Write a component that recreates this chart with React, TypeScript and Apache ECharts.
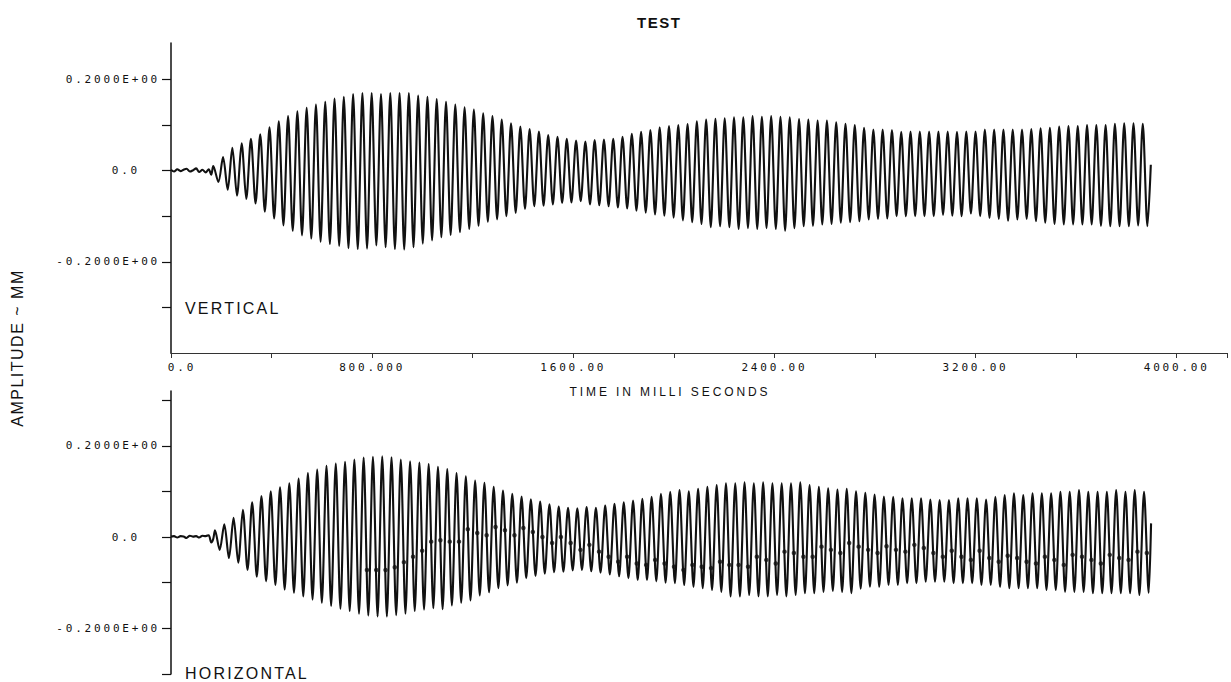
import React, { useEffect, useRef } from 'react';
import * as echarts from 'echarts';

// ---- time base ----
const X_MIN_MS = 0;
const X_MAX_MS = 4200;
const PERIOD_MS = 36.95;
const TOP_FIRST_PEAK_MS = 207;
const BOTTOM_FIRST_PEAK_MS = 175;

// ---- tick / label values ----
const xTickValues = [0, 400, 800, 1200, 1600, 2000, 2400, 2800, 3200, 3600, 4000, 4200];
const xLabelValues = [0, 800, 1600, 2400, 3200, 4000];
const xLabelTexts = ['0.0', '800.000', '1600.00', '2400.00', '3200.00', '4000.00'];
const topYTickValues = [-0.3, -0.2, -0.1, 0, 0.1, 0.2];
const bottomYTickValues = [-0.3, -0.2, -0.1, 0, 0.1, 0.2, 0.3];
const yLabelValues = [-0.2, 0, 0.2];
const yLabelTexts = ['-0.2000E+00', '0.0', '0.2000E+00'];

// ---- quiet lead-in before the oscillation ----
const preTimesMs = [0, 12, 25, 38, 50, 62, 75, 88, 100, 112, 125, 138, 150, 160, 168];
const topPre = [0.002, -0.002, 0.003, -0.001, 0.002, 0.004, -0.002, 0.001, 0.005, -0.003, 0.002, -0.004, 0.003, -0.009, 0.01];
const bottomPre = [0.001, 0.002, -0.001, 0.002, 0.001, -0.002, 0.003, 0.001, 0.002, -0.001, 0.003, 0.002, 0.004, -0.012, -0.004];

// ---- VERTICAL: peak and trough of each cycle ----
const topPeaks = [
  0.03, 0.05, 0.06, 0.07, 0.08, 0.095, 0.108, 0.12, 0.13, 0.138,
  0.145, 0.151, 0.158, 0.162, 0.168, 0.17, 0.17, 0.168, 0.17, 0.17,
  0.17, 0.165, 0.162, 0.157, 0.151, 0.145, 0.139, 0.134, 0.126, 0.12,
  0.112, 0.104, 0.097, 0.091, 0.086, 0.078, 0.074, 0.07, 0.066, 0.064,
  0.067, 0.068, 0.07, 0.074, 0.081, 0.085, 0.089, 0.095, 0.098, 0.1,
  0.102, 0.108, 0.112, 0.114, 0.115, 0.117, 0.117, 0.12, 0.118, 0.12,
  0.118, 0.117, 0.113, 0.112, 0.11, 0.11, 0.106, 0.103, 0.1, 0.094,
  0.09, 0.09, 0.089, 0.085, 0.086, 0.086, 0.086, 0.086, 0.086, 0.085,
  0.086, 0.086, 0.09, 0.09, 0.09, 0.09, 0.09, 0.091, 0.093, 0.094,
  0.097, 0.098, 0.098, 0.1, 0.1, 0.1, 0.103, 0.104, 0.104, 0.103,
];
const topTroughs = [
  -0.025, -0.042, -0.055, -0.062, -0.072, -0.09, -0.105, -0.12, -0.132, -0.142,
  -0.149, -0.156, -0.161, -0.165, -0.17, -0.172, -0.171, -0.164, -0.168, -0.172,
  -0.173, -0.168, -0.16, -0.153, -0.146, -0.141, -0.135, -0.128, -0.121, -0.112,
  -0.107, -0.1, -0.093, -0.084, -0.078, -0.077, -0.074, -0.071, -0.07, -0.067,
  -0.074, -0.076, -0.078, -0.081, -0.083, -0.088, -0.092, -0.096, -0.099, -0.103,
  -0.109, -0.113, -0.117, -0.124, -0.122, -0.124, -0.128, -0.126, -0.128, -0.126,
  -0.128, -0.132, -0.126, -0.122, -0.121, -0.118, -0.117, -0.114, -0.113, -0.111,
  -0.107, -0.106, -0.105, -0.1, -0.1, -0.1, -0.1, -0.1, -0.097, -0.099,
  -0.1, -0.094, -0.1, -0.104, -0.106, -0.11, -0.107, -0.106, -0.111, -0.114,
  -0.117, -0.118, -0.118, -0.118, -0.118, -0.121, -0.122, -0.122, -0.122, -0.12,
  -0.122,
];
const topEndMs = 3897;
const topEndValue = 0.013;

// ---- HORIZONTAL: peak and trough of each cycle ----
const bottomPeaks = [
  0.015, 0.028, 0.042, 0.06, 0.076, 0.09, 0.1, 0.109, 0.118, 0.128,
  0.14, 0.148, 0.156, 0.161, 0.165, 0.17, 0.174, 0.176, 0.177, 0.175,
  0.17, 0.166, 0.163, 0.16, 0.154, 0.149, 0.14, 0.133, 0.124, 0.119,
  0.11, 0.102, 0.095, 0.089, 0.083, 0.078, 0.072, 0.067, 0.064, 0.063,
  0.066, 0.064, 0.069, 0.073, 0.076, 0.08, 0.084, 0.088, 0.095, 0.099,
  0.103, 0.1, 0.106, 0.11, 0.114, 0.118, 0.118, 0.12, 0.118, 0.12,
  0.118, 0.118, 0.118, 0.12, 0.114, 0.11, 0.107, 0.104, 0.106, 0.1,
  0.097, 0.093, 0.089, 0.088, 0.085, 0.085, 0.085, 0.082, 0.081, 0.081,
  0.085, 0.085, 0.085, 0.082, 0.088, 0.092, 0.096, 0.092, 0.096, 0.096,
  0.096, 0.099, 0.099, 0.103, 0.099, 0.099, 0.099, 0.103, 0.099, 0.103,
  0.099,
];
const bottomTroughs = [
  -0.028, -0.046, -0.056, -0.072, -0.087, -0.097, -0.105, -0.115, -0.122, -0.13,
  -0.137, -0.144, -0.151, -0.157, -0.162, -0.168, -0.172, -0.174, -0.174, -0.171,
  -0.168, -0.162, -0.159, -0.156, -0.158, -0.15, -0.144, -0.139, -0.128, -0.121,
  -0.112, -0.106, -0.1, -0.09, -0.085, -0.08, -0.077, -0.076, -0.073, -0.072,
  -0.075, -0.078, -0.082, -0.086, -0.09, -0.094, -0.094, -0.097, -0.1, -0.101,
  -0.105, -0.109, -0.112, -0.116, -0.12, -0.13, -0.13, -0.127, -0.13, -0.13,
  -0.127, -0.13, -0.127, -0.123, -0.123, -0.12, -0.118, -0.12, -0.123, -0.113,
  -0.109, -0.109, -0.105, -0.105, -0.101, -0.101, -0.098, -0.098, -0.098, -0.101,
  -0.101, -0.101, -0.105, -0.105, -0.109, -0.112, -0.112, -0.112, -0.112, -0.116,
  -0.116, -0.12, -0.12, -0.12, -0.123, -0.123, -0.123, -0.123, -0.123, -0.127,
  -0.122,
];
const bottomEndMs = 3898;
const bottomEndValue = 0.03;

// pen dots on the falling strokes of the HORIZONTAL trace (from cycle 16 on)
const DOTS_FIRST_CYCLE = 16;
const bottomDots = [
  -0.072, -0.072, -0.072, -0.066, -0.055, -0.043, -0.03, -0.01, -0.007, -0.01,
  -0.01, 0.017, 0.009, 0.004, 0.022, 0.015, 0.004, 0.02, 0.011, 0,
  -0.013, 0, -0.013, -0.028, -0.017, -0.032, -0.043, -0.054, -0.043, -0.058,
  -0.061, -0.05, -0.058, -0.065, -0.072, -0.061, -0.065, -0.068, -0.054, -0.061,
  -0.061, -0.065, -0.043, -0.05, -0.058, -0.032, -0.035, -0.043, -0.043, -0.021,
  -0.028, -0.035, -0.013, -0.021, -0.028, -0.035, -0.02, -0.028, -0.032, -0.017,
  -0.024, -0.035, -0.043, -0.03, -0.043, -0.05, -0.03, -0.046, -0.054, -0.041,
  -0.046, -0.054, -0.058, -0.043, -0.05, -0.061, -0.039, -0.043, -0.05, -0.058,
  -0.039, -0.046, -0.05, -0.032, -0.035,
];

// ---- build series data from the arrays ----
function buildTop(): number[][] {
  const d: number[][] = preTimesMs.map((t, i) => [t, topPre[i]]);
  for (let k = 0; k < topPeaks.length; k++) {
    d.push([TOP_FIRST_PEAK_MS + (k - 0.5) * PERIOD_MS, topTroughs[k]]);
    d.push([TOP_FIRST_PEAK_MS + k * PERIOD_MS, topPeaks[k]]);
  }
  d.push([TOP_FIRST_PEAK_MS + (topPeaks.length - 0.5) * PERIOD_MS, topTroughs[topPeaks.length]]);
  d.push([topEndMs, topEndValue]);
  return d;
}
function buildBottom(): number[][] {
  const d: number[][] = preTimesMs.map((t, i) => [t, bottomPre[i]]);
  for (let k = 0; k < bottomPeaks.length; k++) {
    d.push([BOTTOM_FIRST_PEAK_MS + k * PERIOD_MS, bottomPeaks[k]]);
    d.push([BOTTOM_FIRST_PEAK_MS + (k + 0.5) * PERIOD_MS, bottomTroughs[k]]);
  }
  d.push([bottomEndMs, bottomEndValue]);
  return d;
}
function buildDots(): number[][] {
  return bottomDots.map((v, i) => {
    const k = DOTS_FIRST_CYCLE + i;
    const p = bottomPeaks[k];
    const tr = bottomTroughs[k];
    const f = (p - v) / (p - tr);
    return [BOTTOM_FIRST_PEAK_MS + (k + f * 0.5) * PERIOD_MS, v];
  });
}

const MONO = "'DejaVu Sans Mono', plotM";
const SANS_X = "'Liberation Sans', plotX";
const SANS_L = "'Liberation Sans', plotL";
const SANS_A = "'Liberation Sans', plotA";
const SANS_T = "'Liberation Sans', plotT";
const INK = '#111';

const css = `
html, body { margin: 0; padding: 0; overflow: hidden; background: #fff; }
text[style*="plotM"] { letter-spacing: 2.8px; }
text[style*="plotX"] { letter-spacing: 2.9px; }
text[style*="plotL"] { letter-spacing: 2.2px; }
text[style*="plotA"] { letter-spacing: 1.5px; }
text[style*="plotT"] { letter-spacing: 1.5px; }
`;

function yFormatter(v: number): string {
  const i = yLabelValues.findIndex((y) => Math.abs(y - v) < 1e-9);
  if (i < 0) return '';
  if (yLabelValues[i] === 0) return '{z|' + yLabelTexts[i] + '}';
  return yLabelTexts[i];
}
function xFormatter(v: number): string {
  const i = xLabelValues.findIndex((x) => Math.abs(x - v) < 1e-9);
  if (i < 0) return '';
  if (xLabelValues[i] === 0) return '{s|' + xLabelTexts[i] + '}';
  return xLabelTexts[i];
}

function yAxis(gridIndex: number, min: number, max: number, ticks: number[]) {
  return {
    type: 'value',
    gridIndex,
    min,
    max,
    splitLine: { show: false },
    axisLine: { show: true, onZero: false, lineStyle: { color: INK, width: 1.5 } },
    axisTick: { show: true, customValues: ticks, length: 9, lineStyle: { color: INK, width: 1.2 } },
    axisLabel: {
      show: true,
      customValues: yLabelValues,
      formatter: yFormatter,
      margin: 11,
      color: INK,
      fontFamily: MONO,
      fontSize: 11,
      rich: { z: { fontFamily: MONO, fontSize: 11, color: INK, padding: [0, 20, 0, 0] } },
    },
  };
}

export default function App() {
  const ref = useRef<HTMLDivElement>(null);
  useEffect(() => {
    if (!ref.current) return;
    const chart = echarts.init(ref.current, null, { renderer: 'svg' });
    chart.setOption({
      animation: false,
      backgroundColor: '#fff',
      title: {
        text: 'TEST',
        left: 632,
        top: 10,
        textStyle: { fontFamily: SANS_T, fontSize: 15, fontWeight: 'bold', color: INK },
      },
      grid: [
        { left: 171, top: 43, width: 1056, height: 310 },
        { left: 171, top: 391, width: 1056, height: 283 },
      ],
      xAxis: [
        {
          type: 'value',
          gridIndex: 0,
          min: X_MIN_MS,
          max: X_MAX_MS,
          splitLine: { show: false },
          axisLine: { show: true, onZero: false, lineStyle: { color: '#333', width: 1.2 } },
          axisTick: { show: true, customValues: xTickValues, length: 5, lineStyle: { color: '#333' } },
          axisLabel: {
            show: true,
            customValues: xLabelValues,
            formatter: xFormatter,
            margin: 9,
            color: INK,
            fontFamily: MONO,
            fontSize: 11,
            rich: { s: { fontFamily: MONO, fontSize: 11, color: INK, padding: [0, 0, 0, 22] } },
          },
        },
        { type: 'value', gridIndex: 1, min: X_MIN_MS, max: X_MAX_MS, show: false },
      ],
      yAxis: [
        yAxis(0, -0.4, 0.28, topYTickValues),
        yAxis(1, -0.3, 0.32, bottomYTickValues),
      ],
      graphic: [
        {
          type: 'text',
          x: 670,
          y: 392,
          style: { text: 'TIME IN MILLI SECONDS', fontFamily: SANS_X, fontSize: 12, fill: INK, align: 'center', verticalAlign: 'middle' },
        },
        {
          type: 'text',
          x: 17,
          y: 348,
          rotation: Math.PI / 2,
          style: { text: 'AMPLITUDE ~ MM', fontFamily: SANS_A, fontSize: 16, fill: INK, align: 'center', verticalAlign: 'middle' },
        },
        {
          type: 'text',
          x: 185,
          y: 308,
          style: { text: 'VERTICAL', fontFamily: SANS_L, fontSize: 16, fill: INK, align: 'left', verticalAlign: 'middle' },
        },
        {
          type: 'text',
          x: 185,
          y: 673,
          style: { text: 'HORIZONTAL', fontFamily: SANS_L, fontSize: 16, fill: INK, align: 'left', verticalAlign: 'middle' },
        },
      ],
      series: [
        {
          name: 'VERTICAL',
          type: 'line',
          xAxisIndex: 0,
          yAxisIndex: 0,
          data: buildTop(),
          showSymbol: false,
          smooth: 0.3,
          lineStyle: { color: INK, width: 2.1, join: 'round' },
        },
        {
          name: 'HORIZONTAL',
          type: 'line',
          xAxisIndex: 1,
          yAxisIndex: 1,
          data: buildBottom(),
          showSymbol: false,
          smooth: 0.3,
          lineStyle: { color: INK, width: 2.1, join: 'round' },
        },
        {
          name: 'marks',
          type: 'scatter',
          xAxisIndex: 1,
          yAxisIndex: 1,
          data: buildDots(),
          symbol: 'circle',
          symbolSize: 4.5,
          itemStyle: { color: INK },
        },
      ],
    });
    return () => chart.dispose();
  }, []);
  return (
    <>
      <style>{css}</style>
      <div ref={ref} style={{ width: 1231, height: 682 }} />
    </>
  );
}
